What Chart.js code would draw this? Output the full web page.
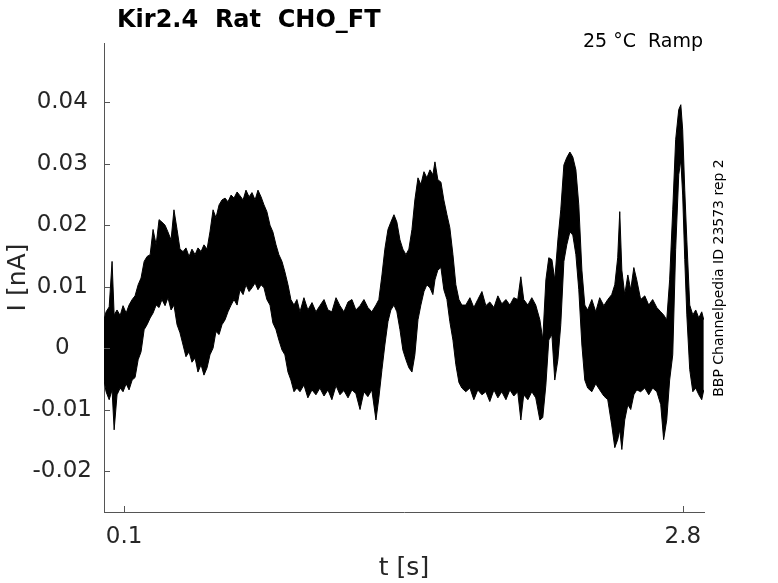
<!DOCTYPE html>
<html><head><meta charset="utf-8">
<script src="https://cdn.jsdelivr.net/npm/chart.js@4"></script>
<style>html,body{margin:0;padding:0;background:#fff}canvas{display:block}</style>
</head><body>
<canvas id="c" width="778" height="583"></canvas>
<script>
const timeS=[0.003,0.013,0.028,0.042,0.052,0.066,0.081,0.095,0.110,0.124,
0.139,0.153,0.168,0.182,0.197,0.211,0.226,0.240,0.255,0.269,
0.283,0.298,0.312,0.327,0.341,0.356,0.370,0.385,0.399,0.414,
0.428,0.443,0.457,0.472,0.486,0.501,0.515,0.530,0.544,0.559,
0.573,0.588,0.602,0.617,0.631,0.646,0.660,0.675,0.689,0.704,
0.718,0.733,0.747,0.762,0.776,0.790,0.805,0.819,0.834,0.848,
0.863,0.877,0.892,0.906,0.921,0.935,0.950,0.969,0.988,1.008,
1.027,1.046,1.066,1.085,1.104,1.124,1.143,1.162,1.182,1.201,
1.220,1.240,1.259,1.278,1.297,1.317,1.331,1.346,1.360,1.375,
1.389,1.404,1.418,1.433,1.447,1.462,1.476,1.491,1.505,1.520,
1.534,1.549,1.563,1.578,1.592,1.602,1.616,1.631,1.645,1.660,
1.674,1.689,1.703,1.718,1.732,1.751,1.771,1.790,1.809,1.829,
1.848,1.867,1.887,1.906,1.925,1.945,1.964,1.983,2.002,2.017,
2.031,2.051,2.070,2.089,2.109,2.123,2.138,2.152,2.167,2.181,
2.196,2.210,2.225,2.239,2.254,2.268,2.283,2.297,2.312,2.326,
2.340,2.360,2.379,2.398,2.418,2.437,2.456,2.471,2.485,2.495,
2.505,2.519,2.534,2.548,2.563,2.577,2.596,2.616,2.635,2.654,
2.674,2.693,2.707,2.722,2.736,2.751,2.765,2.780,2.790,2.799,
2.809,2.819,2.833,2.848,2.862,2.877,2.891,2.901];
const upperNA=[0.0046,0.0059,0.0067,0.0141,0.0054,0.0062,0.0053,0.0069,0.0057,0.0070,
0.0079,0.0085,0.0103,0.0114,0.0141,0.0149,0.0152,0.0193,0.0168,0.0209,
0.0205,0.0200,0.0189,0.0176,0.0225,0.0193,0.0161,0.0157,0.0163,0.0149,
0.0161,0.0152,0.0163,0.0157,0.0168,0.0161,0.0189,0.0225,0.0212,0.0233,
0.0241,0.0244,0.0238,0.0249,0.0244,0.0254,0.0248,0.0241,0.0257,0.0246,
0.0253,0.0241,0.0257,0.0246,0.0233,0.0222,0.0200,0.0189,0.0168,0.0152,
0.0141,0.0124,0.0103,0.0079,0.0070,0.0079,0.0059,0.0082,0.0062,0.0074,
0.0059,0.0069,0.0079,0.0062,0.0059,0.0082,0.0069,0.0059,0.0075,0.0079,
0.0062,0.0069,0.0079,0.0066,0.0059,0.0070,0.0079,0.0119,0.0161,0.0193,
0.0205,0.0217,0.0205,0.0176,0.0161,0.0152,0.0161,0.0193,0.0241,0.0277,
0.0266,0.0287,0.0277,0.0290,0.0282,0.0303,0.0274,0.0270,0.0241,0.0217,
0.0196,0.0152,0.0103,0.0079,0.0070,0.0070,0.0082,0.0066,0.0079,0.0092,
0.0069,0.0075,0.0066,0.0085,0.0072,0.0079,0.0070,0.0082,0.0079,0.0116,
0.0079,0.0070,0.0082,0.0070,0.0046,0.0014,0.0111,0.0147,0.0144,0.0111,
0.0176,0.0225,0.0298,0.0310,0.0319,0.0311,0.0290,0.0233,0.0127,0.0070,
0.0062,0.0079,0.0059,0.0082,0.0069,0.0079,0.0087,0.0103,0.0147,0.0222,
0.0127,0.0087,0.0119,0.0095,0.0131,0.0111,0.0079,0.0085,0.0070,0.0079,
0.0066,0.0059,0.0054,0.0046,0.0111,0.0225,0.0339,0.0388,0.0396,0.0355,
0.0257,0.0176,0.0070,0.0054,0.0062,0.0049,0.0059,0.0046];
const lowerNA=[-0.0052,-0.0071,-0.0084,-0.0068,-0.0133,-0.0076,-0.0065,-0.0071,-0.0058,-0.0068,
-0.0052,-0.0048,-0.0019,-0.0006,0.0030,0.0038,0.0049,0.0057,0.0070,0.0066,
0.0079,0.0069,0.0082,0.0062,0.0070,0.0038,0.0025,0.0005,-0.0014,-0.0006,
-0.0023,-0.0016,-0.0039,-0.0027,-0.0044,-0.0032,-0.0011,0.0000,0.0027,0.0022,
0.0038,0.0046,0.0059,0.0070,0.0079,0.0070,0.0095,0.0087,0.0103,0.0092,
0.0098,0.0106,0.0095,0.0103,0.0098,0.0079,0.0070,0.0041,0.0030,0.0013,
-0.0003,-0.0011,-0.0039,-0.0052,-0.0071,-0.0065,-0.0071,-0.0060,-0.0081,-0.0068,
-0.0076,-0.0065,-0.0078,-0.0068,-0.0084,-0.0061,-0.0076,-0.0069,-0.0081,-0.0068,
-0.0074,-0.0100,-0.0071,-0.0079,-0.0068,-0.0117,-0.0081,-0.0035,0.0005,0.0043,
0.0062,0.0070,0.0059,0.0030,-0.0003,-0.0019,-0.0032,-0.0039,-0.0011,0.0046,
0.0070,0.0092,0.0103,0.0098,0.0087,0.0111,0.0127,0.0131,0.0095,0.0079,
0.0043,0.0013,-0.0027,-0.0056,-0.0065,-0.0071,-0.0065,-0.0084,-0.0068,-0.0076,
-0.0071,-0.0087,-0.0068,-0.0081,-0.0071,-0.0084,-0.0068,-0.0078,-0.0071,-0.0117,
-0.0076,-0.0084,-0.0071,-0.0081,-0.0117,-0.0113,-0.0060,0.0013,0.0022,-0.0052,
-0.0019,0.0038,0.0141,0.0168,0.0189,0.0184,0.0152,0.0095,0.0005,-0.0052,
-0.0065,-0.0071,-0.0058,-0.0068,-0.0078,-0.0084,-0.0125,-0.0162,-0.0149,-0.0133,
-0.0165,-0.0117,-0.0092,-0.0100,-0.0076,-0.0068,-0.0071,-0.0065,-0.0076,-0.0065,
-0.0071,-0.0092,-0.0149,-0.0117,-0.0052,-0.0011,0.0160,0.0282,0.0306,0.0249,
0.0144,0.0054,-0.0035,-0.0071,-0.0065,-0.0076,-0.0084,-0.0068];
const xTickValues=[0.1,2.8];
const xTickLabels=['0.1','2.8'];
const yTickValues=[-0.02,-0.01,0,0.01,0.02,0.03,0.04];
const yTickLabels=['-0.02','-0.01','0','0.01','0.02','0.03','0.04'];
const xRange=[0.003,2.902];
const yRange=[-0.02667,0.04964];
const titleText='Kir2.4  Rat  CHO_FT';
const conditionText='25 °C  Ramp';
const sourceText='BBP Channelpedia ID 23573 rep 2';
const xTitleText='t [s]';
const yTitleText='I [nA]';

const FONT='"DejaVu Sans", sans-serif';

const deco={id:'deco',afterDraw(chart){
  const {ctx,chartArea:a,scales:{x,y}}=chart;
  ctx.save();
  ctx.strokeStyle='#555';ctx.lineWidth=1;
  ctx.beginPath();
  yTickValues.forEach(v=>{const py=Math.round(y.getPixelForValue(v))+0.5;ctx.moveTo(a.left,py);ctx.lineTo(a.left+6,py);});
  xTickValues.forEach(v=>{const px=Math.round(x.getPixelForValue(v))+0.5;ctx.moveTo(px,a.bottom);ctx.lineTo(px,a.bottom-6);});
  ctx.stroke();
  ctx.fillStyle='#000';
  ctx.font='bold 24px '+FONT;ctx.textAlign='left';ctx.textBaseline='alphabetic';
  ctx.fillText(titleText,117,27);
  ctx.font='19px '+FONT;ctx.textAlign='right';
  ctx.fillText(conditionText,703,47);
  ctx.fillStyle='#262626';
  ctx.font='25px '+FONT;ctx.textAlign='center';
  ctx.fillText(xTitleText,(a.left+a.right)/2,575);
  ctx.save();ctx.translate(25,(a.top+a.bottom)/2);ctx.rotate(-Math.PI/2);
  ctx.fillText(yTitleText,0,0);ctx.restore();
  ctx.fillStyle='#000';
  ctx.save();ctx.translate(723,278);ctx.rotate(-Math.PI/2);
  ctx.font='14px '+FONT;ctx.textAlign='center';
  ctx.fillText(sourceText,0,0);ctx.restore();
  ctx.restore();
}};

new Chart(document.getElementById('c').getContext('2d'),{
  type:'line',
  data:{datasets:[
    {data:timeS.map((t,i)=>({x:t,y:upperNA[i]})),borderColor:'#000',backgroundColor:'#000',borderWidth:1,pointRadius:0,tension:0,fill:'+1'},
    {data:timeS.map((t,i)=>({x:t,y:lowerNA[i]})),borderColor:'#000',backgroundColor:'#000',borderWidth:1,pointRadius:0,tension:0,fill:false}
  ]},
  options:{
    responsive:false,animation:false,devicePixelRatio:1,
    layout:{padding:{top:43,right:74,left:0,bottom:0}},
    plugins:{legend:{display:false},tooltip:{enabled:false},title:{display:false}},
    scales:{
      x:{type:'linear',min:xRange[0],max:xRange[1],
        grid:{display:false,drawTicks:false},
        border:{display:true,color:'#555',width:1},
        afterBuildTicks:s=>{s.ticks=xTickValues.map(v=>({value:v}));},
        ticks:{autoSkip:false,maxRotation:0,padding:11,color:'#262626',font:{family:FONT,size:23},
          callback:(v)=>{const i=xTickValues.findIndex(t=>Math.abs(t-v)<1e-9);return i<0?'':xTickLabels[i];}},
        afterFit:s=>{s.height=71;}},
      y:{type:'linear',min:yRange[0],max:yRange[1],
        grid:{display:false,drawTicks:false},
        border:{display:true,color:'#555',width:1},
        afterBuildTicks:s=>{s.ticks=yTickValues.map(v=>({value:v}));},
        ticks:{autoSkip:false,padding:12,crossAlign:'center',color:'#262626',font:{family:FONT,size:23},
          callback:(v)=>{const i=yTickValues.findIndex(t=>Math.abs(t-v)<1e-9);return i<0?'':yTickLabels[i];}},
        afterFit:s=>{s.width=104;}}
    }
  },
  plugins:[deco]
});
</script>
</body></html>
